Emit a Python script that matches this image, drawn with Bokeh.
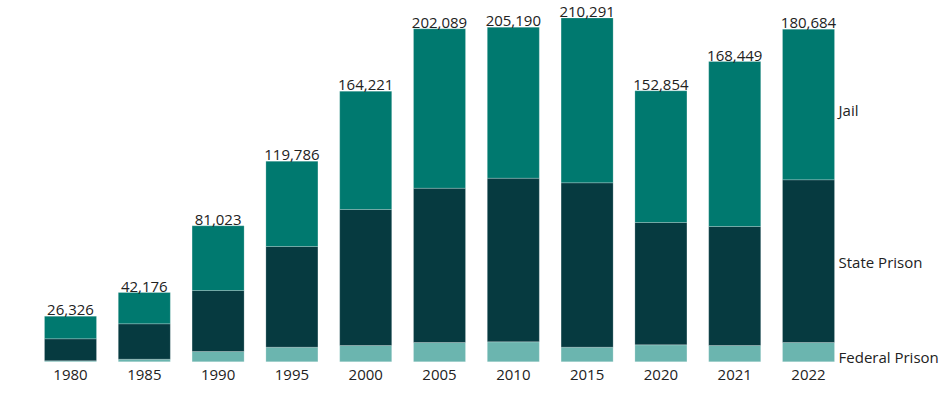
from bokeh.plotting import figure
from bokeh.models import ColumnDataSource, Range1d
from bokeh.core.properties import value
from bokeh.embed import file_html
from bokeh.resources import INLINE

years = ["1980", "1985", "1990", "1995", "2000", "2005", "2010", "2015", "2020", "2021", "2022"]
total_labels = ["26,326", "42,176", "81,023", "119,786", "164,221", "202,089",
                "205,190", "210,291", "152,854", "168,449", "180,684"]
federal_prison = [610, 1580, 6260, 8880, 9910, 11730, 12160, 8880, 10340, 9910, 11730]
state_prison = [13380, 21520, 37090, 61230, 82690, 93810, 99470, 99960, 74360, 72350, 98920]
jail = [13740, 19030, 39340, 51860, 71930, 96920, 91810, 100200, 80070, 100320, 91560]
series_names = ["Federal Prison", "State Prison", "Jail"]

C_FED = "#6BB5AF"
C_STATE = "#063A40"
C_JAIL = "#00796F"
TXT = "#222222"
FONT = value("Open Sans")

n = len(years)
xs = list(range(n))
b1 = [0] * n
t1 = federal_prison[:]
t2 = [a + b for a, b in zip(t1, state_prison)]
t3 = [a + b for a, b in zip(t2, jail)]

src = ColumnDataSource(dict(x=xs, year=years, label=total_labels,
                            b1=b1, t1=t1, t2=t2, t3=t3))

p = figure(width=945, height=392, output_backend="svg", toolbar_location=None,
           x_range=Range1d(-0.9485, 11.856), y_range=Range1d(-18666, 219670),
           min_border=0, min_border_left=0, min_border_right=0,
           min_border_top=0, min_border_bottom=0)
p.axis.visible = False
p.grid.visible = False
p.outline_line_color = None
p.background_fill_color = "white"
p.border_fill_color = "white"

W = 0.705
for bot, top, col in (("b1", "t1", C_FED), ("t1", "t2", C_STATE), ("t2", "t3", C_JAIL)):
    p.vbar(x="x", bottom=bot, top=top, width=W, source=src, fill_color=col,
           line_color="#ffffff", line_width=0.6, line_alpha=0.35)

# totals above bars
p.text(x="x", y="t3", text="label", source=src, text_align="center",
       text_baseline="alphabetic", y_offset=-6, text_font=FONT,
       text_font_size="15px", text_color=TXT)

# year labels below bars
p.text(x="x", y="b1", text="year", source=src, text_align="center",
       text_baseline="top", y_offset=8, text_font=FONT,
       text_font_size="15px", text_color=TXT)

# series labels at right of last bar
last = n - 1
mids = [(b1[last] + t1[last]) / 2, (t1[last] + t2[last]) / 2, (t2[last] + t3[last]) / 2]
lab_src = ColumnDataSource(dict(x=[last + W / 2] * 3, y=mids, t=series_names,
                                yo=[5, 1, 5]))
p.text(x="x", y="y", text="t", source=lab_src, x_offset=4, y_offset="yo",
       text_align="left", text_baseline="middle", text_font=FONT,
       text_font_size="15px", text_color=TXT)

open("out.html", "w").write(file_html(p, INLINE))
